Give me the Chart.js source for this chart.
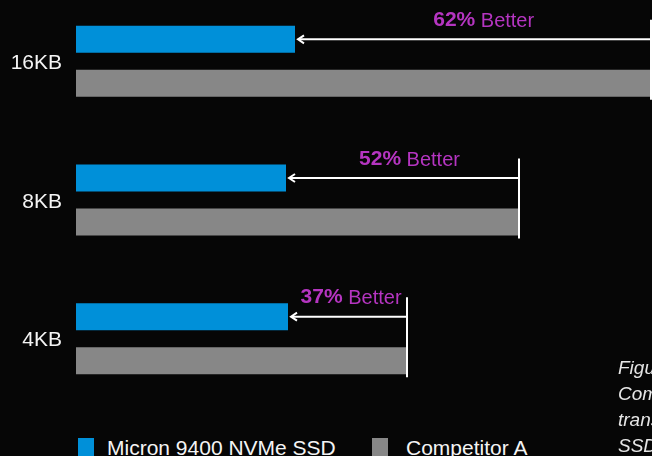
<!DOCTYPE html>
<html>
<head>
<meta charset="utf-8">
<script src="https://cdn.jsdelivr.net/npm/chart.js@4.4.1/dist/chart.umd.min.js"></script>
<style>
  html, body { margin: 0; padding: 0; width: 652px; height: 456px; overflow: hidden; background: #060606; }
  body { position: relative; font-family: "Liberation Sans", Arial, sans-serif; }
  #wrap { position: absolute; left: 0; top: -8px; width: 652px; height: 416px; }
  .leg { position: absolute; color: #f4f4f4; font-size: 21px; line-height: 20px; white-space: nowrap; }
  .sw { position: absolute; width: 16px; height: 18px; }
  #note { position: absolute; left: 618px; top: 355px; color: #e6e6e6; font-style: italic; font-size: 19px; line-height: 26px; white-space: nowrap; }
</style>
</head>
<body>
<div id="wrap"><canvas id="c"></canvas></div>
<div class="sw" style="left:78px; top:438px; background:#0090d9;"></div>
<div class="leg" style="left:107px; top:438px;">Micron 9400 NVMe SSD</div>
<div class="sw" style="left:372px; top:438px; background:#878787;"></div>
<div class="leg" style="left:406px; top:438px;">Competitor A</div>
<div id="note">Figure 4:<br>Compared<br>transfer<br>SSD</div>
<script>
// Data (relative latency)
const categories = ["16KB", "8KB", "4KB"];
const micronValues = [219, 210, 212];
const competitorValues = [575, 443, 331];
const betterPercent = [62, 52, 37];
const seriesNames = ["Micron 9400 NVMe SSD", "Competitor A"];

const BLUE = "#0090d9";
const GRAY = "#878787";
const MAGENTA = "#b535c1";
const FONT = "'Liberation Sans', Arial, sans-serif";

const annotate = {
  id: "betterArrows",
  afterDatasetsDraw(chart) {
    const ctx = chart.ctx;
    const m0 = chart.getDatasetMeta(0).data;
    const m1 = chart.getDatasetMeta(1).data;
    ctx.save();
    for (let i = 0; i < categories.length; i++) {
      const b = m0[i], g = m1[i];
      const bx = b.x, gx = Math.min(g.x, chart.chartArea.right - 1), by = b.y;
      const top = b.y - b.height / 2 - 6;
      const bottom = g.y + g.height / 2 + 3;
      ctx.strokeStyle = "#ffffff";
      ctx.lineWidth = 2;
      ctx.beginPath();
      ctx.moveTo(gx, top);
      ctx.lineTo(gx, bottom);
      ctx.stroke();
      const tip = bx + 3;
      ctx.beginPath();
      ctx.moveTo(gx, by);
      ctx.lineTo(tip + 1, by);
      ctx.stroke();
      ctx.beginPath();
      ctx.moveTo(tip + 6, by - 4);
      ctx.lineTo(tip, by);
      ctx.lineTo(tip + 6, by + 4);
      ctx.stroke();
      const pct = betterPercent[i] + "%";
      const rest = " Better";
      ctx.font = "bold 21px " + FONT;
      const w1 = ctx.measureText(pct).width;
      ctx.font = "20px " + FONT;
      const w2 = ctx.measureText(rest).width;
      const cx = bx + (g.x - bx) * 0.53;
      const x0 = cx - (w1 + w2) / 2;
      const ty = by - 19;
      ctx.fillStyle = MAGENTA;
      ctx.textBaseline = "middle";
      ctx.textAlign = "left";
      ctx.font = "bold 21px " + FONT;
      ctx.fillText(pct, x0, ty);
      ctx.font = "20px " + FONT;
      ctx.fillText(rest, x0 + w1, ty + 1);
    }
    ctx.restore();
  }
};

new Chart(document.getElementById("c"), {
  type: "bar",
  data: {
    labels: categories,
    datasets: [
      { label: seriesNames[0], data: micronValues, backgroundColor: BLUE, borderWidth: 0, barPercentage: 0.614, categoryPercentage: 0.635 },
      { label: seriesNames[1], data: competitorValues, backgroundColor: GRAY, borderWidth: 0, barPercentage: 0.614, categoryPercentage: 0.635 }
    ]
  },
  options: {
    indexAxis: "y",
    responsive: true,
    maintainAspectRatio: false,
    animation: false,
    layout: { padding: 0 },
    plugins: { legend: { display: false }, tooltip: { enabled: false } },
    scales: {
      x: { display: false, min: 0, max: 576 },
      y: {
        grid: { display: false, drawTicks: false },
        border: { display: false },
        ticks: { color: "#f4f4f4", padding: 14, labelOffset: 2, font: { family: FONT, size: 21 } },
        afterFit(scale) { scale.width = 76; scale.paddingTop = 0; scale.paddingBottom = 0; }
      }
    }
  },
  plugins: [annotate]
});
</script>
</body>
</html>
